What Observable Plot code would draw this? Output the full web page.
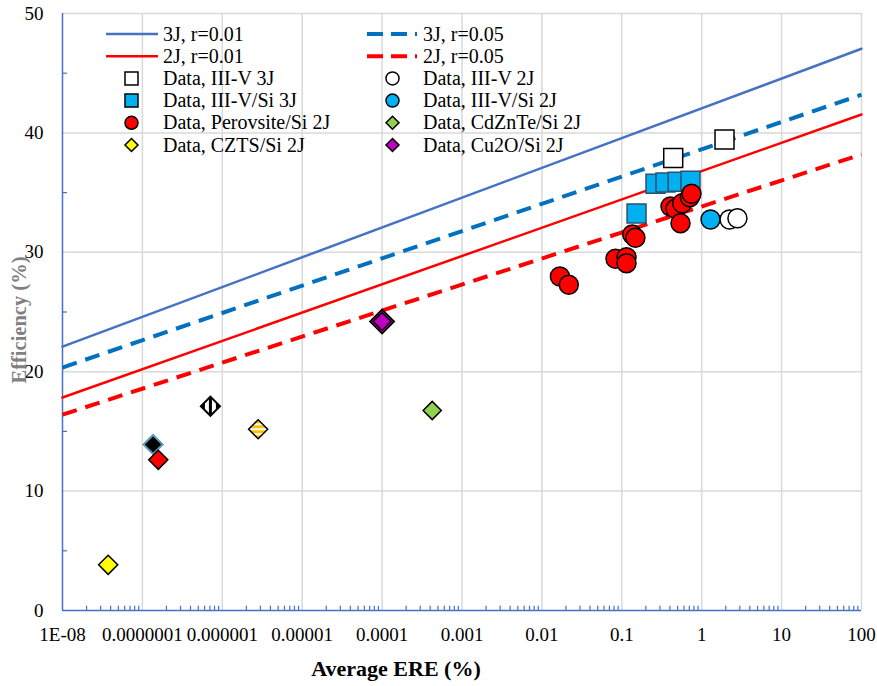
<!DOCTYPE html>
<html><head><meta charset="utf-8">
<script src="https://cdn.jsdelivr.net/npm/d3@7"></script>
<script src="https://cdn.jsdelivr.net/npm/@observablehq/plot@0.6"></script>
<style>
body{margin:0;background:#fff;}
#wrap{position:relative;width:877px;height:686px;font-family:"Liberation Serif","Times New Roman",serif;}
#wrap svg text{font-family:"Liberation Serif","Times New Roman",serif;}
#legend{position:absolute;left:0;top:0;pointer-events:none;}
</style></head><body><div id="wrap"></div>
<script>
// ---- theoretical lines (endpoints at the axis limits) ----
const ereLine = [1e-8, 100];
const eff3J_r001 = [22.1, 47.05];
const eff3J_r005 = [20.35, 43.2];
const eff2J_r001 = [17.84, 41.54];
const eff2J_r005 = [16.4, 38.2];

// ---- measured data ----
const iiiv3J_ere = [0.44, 1.93];
const iiiv3J_eff = [37.9, 39.45];
const iiiv2J_ere = [2.23, 2.8];
const iiiv2J_eff = [32.75, 32.85];
const iiivSi3J_ere = [0.153, 0.264, 0.352, 0.50, 0.724];
const iiivSi3J_eff = [33.25, 35.75, 35.85, 35.9, 36.0];
const iiivSi2J_ere = [1.29];
const iiivSi2J_eff = [32.75];
const perovSi_ere = [0.0168, 0.0217, 0.0834, 0.1146, 0.1146, 0.135, 0.148, 0.407, 0.47, 0.57, 0.543, 0.71, 0.745];
const perovSi_eff = [27.97, 27.28, 29.46, 29.59, 29.09, 31.49, 31.21, 33.84, 33.64, 34.11, 32.44, 34.62, 34.9];
const cdznteSi_ere = [4.24e-4];
const cdznteSi_eff = [16.75];
const cztsSi_ere = [3.73e-8];
const cztsSi_eff = [3.83];
const cu2oSi_ere = [1.0e-4];
const cu2oSi_eff = [24.2];
// unlabelled markers (not in legend)
const blackDia_ere = [1.36e-7];
const blackDia_eff = [13.9];
const redDia_ere = [1.58e-7];
const redDia_eff = [12.62];
const vStripeDia_ere = [7.1e-7];
const vStripeDia_eff = [17.11];
const hStripeDia_ere = [2.81e-6];
const hStripeDia_eff = [15.18];

// ---- ticks ----
const xTickValues = [1e-8, 1e-7, 1e-6, 1e-5, 1e-4, 1e-3, 0.01, 0.1, 1, 10, 100];
const xTickLabels = ["1E-08", "0.0000001", "0.000001", "0.00001", "0.0001", "0.001", "0.01", "0.1", "1", "10", "100"];
const yTickValues = [0, 10, 20, 30, 40, 50];
const yMinorValues = [5, 15, 25, 35, 45];
const minorMultipliers = [2, 3, 4, 5, 6, 7, 8, 9];

// ---- legend labels ----
const legendCol1 = ["3J, r=0.01", "2J, r=0.01", "Data, III-V 3J", "Data, III-V/Si 3J", "Data, Perovsite/Si 2J", "Data, CZTS/Si 2J"];
const legendCol2 = ["3J, r=0.05", "2J, r=0.05", "Data, III-V 2J", "Data, III-V/Si 2J", "Data, CdZnTe/Si 2J", "Data, Cu2O/Si 2J"];

const SERIF = "'Liberation Serif','Times New Roman',serif";
const pts = (xs, ys) => xs.map((x, i) => ({x, y: ys[i]}));
const xLabelMap = new Map(xTickValues.map((v, i) => [v, xTickLabels[i]]));
const xMinor = xTickValues.slice(0, -1).flatMap(d => minorMultipliers.map(m => d * m));

const AXIS = "#4472C4", GRID = "#D9D9D9";
const dot = (data, symbol, r, fill, stroke = "black", sw = 1.5) =>
  Plot.dot(data, {x: "x", y: "y", symbol, r, fill, stroke, strokeWidth: sw});

const chart = Plot.plot({
  width: 877, height: 686,
  marginLeft: 62, marginRight: 16, marginTop: 13, marginBottom: 76,
  style: `font-family: ${SERIF}; font-size: 19px; color: black; background: white; overflow: visible;`,
  x: {type: "log", domain: [1e-8, 100], label: null},
  y: {domain: [0, 50], label: null},
  marks: [
    Plot.ruleX(xTickValues.slice(1), {stroke: GRID, strokeWidth: 1.5}),
    Plot.ruleY(yTickValues.slice(1), {stroke: GRID, strokeWidth: 1.5}),
    Plot.ruleX(xMinor, {y1: 0, y2: 0.36, stroke: AXIS, strokeWidth: 1.2}),
    Plot.ruleY(yMinorValues, {x1: 1e-8, x2: 1.155e-8, stroke: AXIS, strokeWidth: 1.2}),
    Plot.ruleX([1e-8], {stroke: AXIS, strokeWidth: 1.5}),
    Plot.ruleY([0], {stroke: AXIS, strokeWidth: 1.5}),
    Plot.line(pts(ereLine, eff3J_r001), {x: "x", y: "y", stroke: "#4472C4", strokeWidth: 2.5}),
    Plot.line(pts(ereLine, eff3J_r005), {x: "x", y: "y", stroke: "#0070C0", strokeWidth: 4, strokeDasharray: "15,9", strokeLinecap: "butt"}),
    Plot.line(pts(ereLine, eff2J_r001), {x: "x", y: "y", stroke: "#FF0000", strokeWidth: 2.5}),
    Plot.line(pts(ereLine, eff2J_r005), {x: "x", y: "y", stroke: "#FF0000", strokeWidth: 4, strokeDasharray: "15,9", strokeLinecap: "butt"}),
    dot(pts(iiiv3J_ere, iiiv3J_eff), "square", 10.7, "white"),
    dot(pts(iiivSi3J_ere, iiivSi3J_eff), "square", 10.7, "#00B0F0", "#2F4F6F"),
    dot(pts(iiivSi2J_ere, iiivSi2J_eff), "circle", 9.5, "#00B0F0"),
    dot(pts(iiiv2J_ere, iiiv2J_eff), "circle", 9.5, "white"),
    dot(pts(perovSi_ere, perovSi_eff), "circle", 9.5, "#FF0000"),
    dot(pts(cdznteSi_ere, cdznteSi_eff), "diamond2", 8.2, "#92D050"),
    dot(pts(cztsSi_ere, cztsSi_eff), "diamond2", 8.6, "#FFFF00"),
    dot(pts(cu2oSi_ere, cu2oSi_eff), "diamond2", 10.8, "#C000C0", "black", 1.8),
    dot(pts(cu2oSi_ere, cu2oSi_eff), "diamond2", 8.0, "#C000C0", "black", 1.5),
    dot(pts(blackDia_ere, blackDia_eff), "diamond2", 8.6, "black", "#5B9BB5", 2),
    dot(pts(redDia_ere, redDia_eff), "diamond2", 8.6, "#FF0000"),
    dot(pts(vStripeDia_ere, vStripeDia_eff), "diamond2", 8.6, "url(#vstripe)", "black", 2),
    dot(pts(hStripeDia_ere, hStripeDia_eff), "diamond2", 8.6, "url(#hstripe)", "black", 1.5),
    Plot.axisY({ticks: yTickValues, tickSize: 0, tickPadding: 19, label: null, fontSize: 19, fontFamily: SERIF}),
    Plot.axisX({ticks: xTickValues, tickFormat: d => xLabelMap.get(d), tickSize: 0, tickPadding: 17, label: null, fontSize: 19, fontFamily: SERIF})
  ]
});

const wrap = document.getElementById("wrap");
wrap.appendChild(chart);

// patterns for striped markers
const svgSel = d3.select(chart);
const defs = svgSel.insert("defs", ":first-child");
const pv = defs.append("pattern").attr("id", "vstripe").attr("patternUnits", "userSpaceOnUse")
  .attr("x", -1.5).attr("width", 7).attr("height", 7);
pv.append("rect").attr("width", 7).attr("height", 7).attr("fill", "white");
pv.append("rect").attr("width", 3).attr("height", 7).attr("fill", "black");
const ph = defs.append("pattern").attr("id", "hstripe").attr("patternUnits", "userSpaceOnUse")
  .attr("y", -4).attr("width", 5).attr("height", 5);
ph.append("rect").attr("width", 5).attr("height", 5).attr("fill", "white");
ph.append("rect").attr("width", 5).attr("height", 3).attr("fill", "#FFC000");

// axis titles
svgSel.append("text").attr("x", 396).attr("y", 676).attr("text-anchor", "middle")
  .attr("font-weight", "bold").attr("font-size", 22).attr("font-family", SERIF).attr("fill", "black").text("Average ERE (%)");
svgSel.append("text").attr("transform", "translate(26,320) rotate(-90)").attr("text-anchor", "middle")
  .attr("font-weight", "bold").attr("font-size", 20.5).attr("font-family", SERIF).attr("fill", "#808080").text("Efficiency (%)");

// legend overlay
const lg = d3.select(wrap).append("svg").attr("id", "legend").attr("width", 877).attr("height", 686)
  .style("font-family", SERIF).style("font-size", "20px");
const rowY = i => 34 + 22.2 * i;
const cols = [
  {labels: legendCol1, x0: 106, x1: 158, mx: 131.5, tx: 163,
   items: [
     {line: "#4472C4", w: 2.5},
     {line: "#FF0000", w: 2.5},
     {sym: d3.symbolSquare, size: 169, fill: "white"},
     {sym: d3.symbolSquare, size: 169, fill: "#00B0F0"},
     {sym: d3.symbolCircle, size: 133, fill: "#FF0000"},
     {sym: d3.symbolDiamond2, size: 108, fill: "#FFFF00"}]},
  {labels: legendCol2, x0: 367, x1: 417, mx: 392.5, tx: 423,
   items: [
     {line: "#0070C0", w: 4, dash: "16,8"},
     {line: "#FF0000", w: 4, dash: "16,8"},
     {sym: d3.symbolCircle, size: 133, fill: "white"},
     {sym: d3.symbolCircle, size: 133, fill: "#00B0F0"},
     {sym: d3.symbolDiamond2, size: 108, fill: "#92D050"},
     {sym: d3.symbolDiamond2, size: 108, fill: "#C000C0"}]}
];
cols.forEach(c => {
  c.items.forEach((it, i) => {
    const y = rowY(i);
    if (it.line) {
      lg.append("line").attr("x1", c.x0).attr("x2", c.x1).attr("y1", y).attr("y2", y)
        .attr("stroke", it.line).attr("stroke-width", it.w).attr("stroke-dasharray", it.dash || null);
    } else {
      lg.append("path").attr("d", d3.symbol(it.sym, it.size)()).attr("transform", `translate(${c.mx},${y})`)
        .attr("fill", it.fill).attr("stroke", "black").attr("stroke-width", 1.5);
    }
    lg.append("text").attr("x", c.tx).attr("y", y + 6.5).attr("fill", "black").text(c.labels[i]);
  });
});
</script></body></html>
